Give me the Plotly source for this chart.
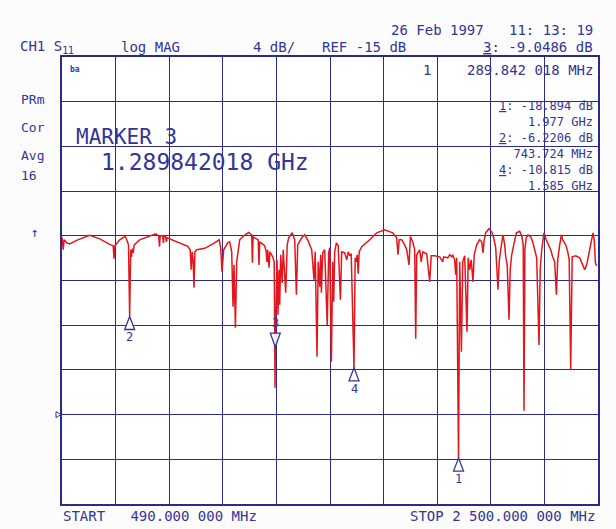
import plotly.graph_objects as go

# ---- data: S11 log-magnitude trace (frequency in MHz, magnitude in dB) ----
freq_mhz = [
    490.8, 494.5, 498.3, 507.6, 518.9, 548.9, 593.9, 631.4, 672.6, 682.0,
    685.0, 688.4, 706.4, 727.0, 732.6, 739.4, 743.7, 747.6, 750.6, 753.3,
    757.0, 760.8, 781.4, 811.4, 830.1, 841.4, 852.6, 855.6, 858.3, 867.6,
    870.3, 872.9, 878.9, 881.5, 884.1, 912.6, 961.4, 970.8, 974.5, 978.3,
    982.0, 985.0, 988.4, 995.1, 1025.1, 1062.6, 1079.5, 1085.1, 1090.0, 1096.4,
    1111.4, 1118.9, 1126.4, 1131.3, 1135.0, 1140.3, 1145.1, 1156.4, 1171.4, 1190.1,
    1201.4, 1204.0, 1206.6, 1225.8, 1228.8, 1231.4, 1250.1, 1255.8, 1258.8, 1261.4,
    1266.3, 1269.6, 1280.1, 1285.8, 1288.8, 1289.8, 1293.3, 1296.3, 1300.0, 1303.8,
    1306.4, 1310.1, 1315.8, 1319.5, 1328.9, 1334.5, 1340.1, 1353.3, 1362.6, 1369.0,
    1373.9, 1388.9, 1400.1, 1411.4, 1418.9, 1426.4, 1435.0, 1439.5, 1446.3, 1450.8,
    1456.4, 1460.1, 1462.8, 1467.6, 1475.1, 1484.5, 1490.1, 1493.9, 1500.3, 1505.1,
    1508.9, 1512.6, 1519.0, 1525.8, 1534.0, 1538.9, 1550.1, 1557.6, 1563.3, 1568.9,
    1574.5, 1585.0, 1589.5, 1593.3, 1597.0, 1600.8, 1604.5, 1613.9, 1643.9, 1670.1,
    1700.1, 1730.1, 1745.1, 1750.0, 1754.5, 1763.9, 1775.1, 1782.6, 1791.3, 1796.5,
    1805.1, 1812.6, 1816.4, 1820.1, 1831.4, 1837.0, 1842.6, 1857.6, 1868.9, 1874.5,
    1887.6, 1906.4, 1917.6, 1921.4, 1936.4, 1943.9, 1951.4, 1955.1, 1962.6, 1966.4,
    1970.1, 1977.0, 1981.4, 1987.8, 1992.6, 2000.1, 2008.8, 2013.3, 2018.9, 2024.5,
    2031.3, 2035.8, 2045.1, 2056.4, 2063.9, 2068.8, 2073.3, 2078.9, 2091.3, 2101.4,
    2108.9, 2116.4, 2125.0, 2129.5, 2135.1, 2143.8, 2150.1, 2153.9, 2159.5, 2166.3,
    2170.8, 2176.4, 2183.9, 2194.0, 2206.4, 2213.9, 2219.5, 2222.5, 2225.8, 2230.8,
    2237.5, 2247.6, 2255.1, 2262.6, 2270.1, 2278.8, 2283.3, 2288.9, 2297.5, 2305.8,
    2315.1, 2322.6, 2330.1, 2337.6, 2344.0, 2348.9, 2356.4, 2362.8, 2367.6, 2378.9,
    2386.4, 2392.0, 2397.6, 2403.3, 2416.4, 2431.4, 2442.6, 2450.1, 2457.6, 2465.1,
    2475.3, 2481.3, 2485.8, 2490.3, 2495.1,
]
mag_db = [
    0.82, -0.25, 0.64, 0.37, 0.28, 0.64, 1.04, 0.73, 0.19, 0.11,
    -1.06, 0.11, 0.64, 0.96, 0.64, 0.19, -6.22, -0.25, -0.88, -0.16,
    -0.52, 0.19, 0.64, 0.91, 1.04, 1.18, 1.00, 0.02, 1.00, 1.00,
    0.37, 1.00, 0.91, 0.46, 0.82, 0.55, 0.06, -0.25, -2.04, -0.43,
    -1.33, -3.65, -0.43, -0.25, -0.12, 0.37, 0.64, -0.07, -2.22, -0.25,
    0.37, 0.46, -0.43, -5.35, -1.60, -7.23, -1.33, 0.64, 1.00, 1.31,
    1.09, -1.42, 0.91, 0.64, -1.60, 0.46, 0.11, -0.43, -1.33, -0.25,
    -1.86, -0.43, -0.88, -1.33, -12.60, -9.05, -4.73, -1.15, -6.07, -2.04,
    -5.18, -0.70, -3.21, -0.25, -4.10, 0.19, 0.82, 1.27, 0.64, -4.28,
    0.19, 0.82, 1.09, 0.64, 0.19, -0.25, -2.94, -0.43, -9.83, -1.33,
    -3.56, -0.70, -4.10, -0.52, -0.25, -6.97, -0.52, -0.07, -10.28, -1.33,
    -4.91, -0.43, 0.37, 0.11, -4.73, -0.43, -0.52, -1.15, -0.43, -0.79,
    -0.61, -10.82, -0.97, -1.33, -0.70, -2.40, -0.43, 0.02, 0.64, 1.27,
    1.54, 1.27, 0.82, -0.70, 0.64, 0.64, 0.19, -0.25, -1.60, 0.94,
    0.46, -0.25, -8.22, -0.70, -0.25, -1.33, -0.43, -0.61, -3.12, -0.79,
    -0.79, -0.88, -1.33, -0.88, -0.97, -0.70, -0.88, -0.70, -1.15, -2.49,
    -0.97, -18.89, -1.33, -9.38, -1.33, -0.79, -7.59, -0.97, -2.04, -1.15,
    -3.12, -0.70, 0.19, 0.64, 0.46, -0.52, 0.64, 1.27, 1.63, 1.36,
    0.82, -0.07, -3.83, -1.33, -0.25, 1.09, 0.19, -0.88, -1.60, -6.52,
    -2.04, -0.70, 0.19, 1.27, 1.40, 1.00, 0.19, -14.66, -0.25, 0.82,
    1.09, 0.91, 0.46, -0.25, -0.97, -8.76, -2.04, -0.25, 1.27, 0.64,
    0.19, -0.25, -0.88, -1.33, -4.28, -1.15, 0.19, 1.09, 0.64, 0.19,
    -0.43, -1.15, -10.99, -0.88, -0.79, -0.97, -1.60, -2.04, -1.60, -0.70,
    0.64, 1.27, 0.64, -1.42, -1.69,
]

# ---- markers ----
marker_ids = ["1", "2", "3", "4"]
marker_freq_mhz = [1977.0, 743.724, 1289.842018, 1585.0]
marker_db = [-18.894, -6.2206, -9.0486, -10.815]
marker_up = [True, True, False, True]

# ---- instrument settings / labels ----
start_mhz = 490.0
stop_mhz = 2500.0
scale_db_per_div = 4.0
ref_db = -15.0
ref_pos_div = 2          # reference line position (divisions from bottom)
n_div = 10

header_date = "26 Feb 1997   11: 13: 19"
readout_lines = [
    ("1", "-18.894 dB", "1.977 GHz"),
    ("2", "-6.2206 dB", "743.724 MHz"),
    ("4", "-10.815 dB", "1.585 GHz"),
]
active_label = "MARKER 3"
active_value = "1.289842018 GHz"
status_labels = ["PRm", "Cor", "Avg", "16"]

INK = "#34349a"
GRID = "#2a2a88"
TRACE = "#e3161b"
FONT = "DejaVu Sans Mono"

y_min = ref_db - ref_pos_div * scale_db_per_div
y_max = y_min + n_div * scale_db_per_div
x_step = (stop_mhz - start_mhz) / n_div

fig = go.Figure()
fig.add_trace(go.Scatter(
    x=freq_mhz, y=mag_db, mode="lines",
    line=dict(color=TRACE, width=1.5), hoverinfo="skip", showlegend=False,
))

# marker triangles (fixed pixel size, anchored at marker data point)
shapes = []
annos = []
for mid, f, d, up in zip(marker_ids, marker_freq_mhz, marker_db, marker_up):
    if up:
        path = "M0,0 L-5,-13 L5,-13 Z"
        lab_shift = -21
    else:
        path = "M0,1 L-5,15 L5,15 Z"
        lab_shift = 25
    shapes.append(dict(type="path", xref="x", yref="y", xsizemode="pixel",
                       ysizemode="pixel", xanchor=f, yanchor=d, path=path,
                       line=dict(color=INK, width=1.3), fillcolor="rgba(255,255,255,0.9)",
                       layer="above"))
    annos.append(dict(x=f, y=d, xref="x", yref="y", text=mid, showarrow=False,
                      yshift=lab_shift, font=dict(family=FONT, size=12, color=INK)))

# reference position indicator (left edge)
shapes.append(dict(type="path", xref="paper", yref="y", xsizemode="pixel",
                   ysizemode="pixel", xanchor=0, yanchor=ref_db,
                   path="M-6,3 L-1,0 L-6,-3 Z", line=dict(color=INK, width=1),
                   fillcolor="rgba(0,0,0,0)"))


def txt(x, y, s, size=13, xa="left", ya="middle", align="left"):
    annos.append(dict(x=x, y=y, xref="paper", yref="paper", text=s, showarrow=False,
                      xanchor=xa, yanchor=ya, align=align, borderpad=0,
                      font=dict(family=FONT, size=size, color=INK)))


def ul(s):
    return "<span style='text-decoration:underline'>" + s + "</span>"


txt(0.9925, 1.0604, header_date, 14, "right")
txt(-0.0793, 1.0224, "CH1 S<sub>11</sub>", 14)
txt(0.1077, 1.0224, "log MAG", 14)
txt(0.3541, 1.0224, "4 dB/", 14)
txt(0.4825, 1.0224, "REF -15 dB", 14)
txt(0.9925, 1.0224, ul("3") + ": -9.0486 dB", 14, "right")
txt(0.6808, 0.9716, "1", 14, "center")
txt(0.9925, 0.9716, "289.842 018 MHz", 14, "right")
txt(0.0246, 0.9716, "<b>ba</b>", 8, "center")

status_y = [0.9043, 0.8412, 0.7792, 0.736]
for s, yy in zip(status_labels, status_y):
    txt(-0.079, yy, s, 13)

txt(0.0237, 0.8219, active_label, 21)
txt(0.0713, 0.7642, active_value, 23)

# marker readout blocks (two lines each)
ro_y = [0.8714, 0.8004, 0.7304]
for (mid, dbs, fs), yy in zip(readout_lines, ro_y):
    txt(0.9925, yy, ul(mid) + ": " + dbs + "<br>" + fs, 12, "right", align="right")

txt(0.0, -0.0268, "START   490.000 000 MHz", 14)
txt(0.9963, -0.0268, "STOP 2 500.000 000 MHz", 14, "right")
txt(-0.051, 0.6085, "↑", 13, "center")

axis_common = dict(showgrid=True, gridcolor=GRID, gridwidth=1.1, showline=True,
                   linecolor=GRID, linewidth=1.6, mirror=True, zeroline=False,
                   ticks="", showticklabels=False, fixedrange=True)

fig.update_layout(
    width=616, height=529,
    margin=dict(l=62, r=18, t=57, b=25),
    paper_bgcolor="#fcfcfc", plot_bgcolor="#ffffff",
    xaxis=dict(range=[start_mhz, stop_mhz], tick0=start_mhz, dtick=x_step, **axis_common),
    yaxis=dict(range=[y_min, y_max], tick0=y_min, dtick=scale_db_per_div, **axis_common),
    shapes=shapes, annotations=annos, showlegend=False,
)

fig.write_html("out.html")
